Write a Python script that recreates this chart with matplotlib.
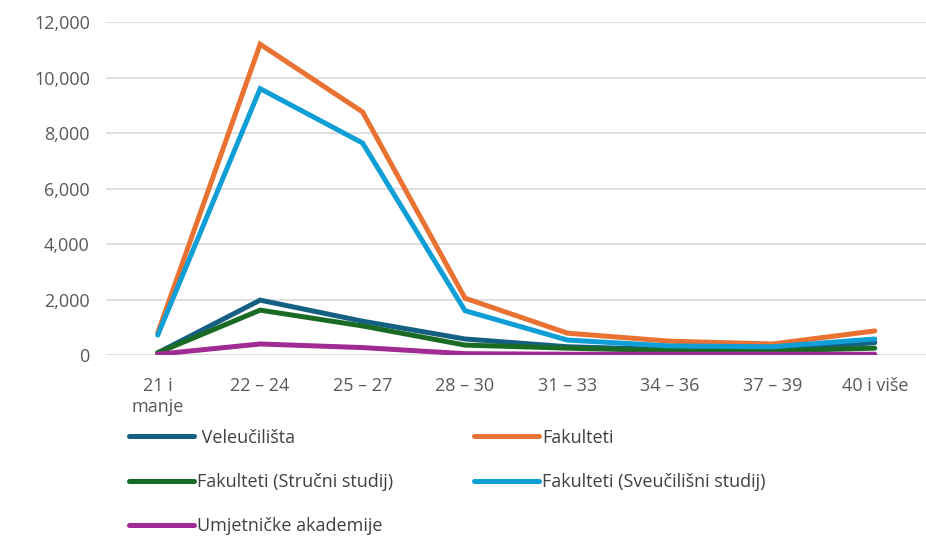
import matplotlib.pyplot as plt

# ==========================================================
# DATA
# ==========================================================

age_groups = ["21 i\nmanje", "22 – 24", "25 – 27", "28 – 30",
              "31 – 33", "34 – 36", "37 – 39", "40 i više"]

veleucilista = [80, 1980, 1220, 580, 300, 200, 150, 450]
fakulteti = [800, 11200, 8760, 2050, 790, 500, 400, 870]
fak_strucni = [80, 1620, 1050, 360, 250, 160, 150, 250]
fak_sveucilisni = [720, 9600, 7640, 1600, 540, 330, 300, 580]
umjetnicke = [30, 400, 270, 50, 30, 30, 30, 30]

series_labels = [" Veleučilišta", "Fakulteti", "Fakulteti (Stručni studij)",
                 "Fakulteti (Sveučilišni studij)", "Umjetničke akademije"]
colors = ["#156082", "#E97132", "#196B24", "#0F9ED5", "#A02B93"]

# ==========================================================
# PLOT
# ==========================================================

plt.rcParams["font.family"] = ["Open Sans", "DejaVu Sans"]

fig = plt.figure(figsize=(9.26, 5.38), dpi=100)
ax = fig.add_axes([0.115, 0.34, 0.885, 0.619])

x = list(range(len(age_groups)))
all_series = [veleucilista, fakulteti, fak_strucni, fak_sveucilisni, umjetnicke]
# draw order so the orange/light blue stay on top like in the source
order = [0, 2, 4, 1, 3]
handles = {}
for i in order:
    (ln,) = ax.plot(x, all_series[i], color=colors[i], linewidth=3.6,
                    solid_capstyle="round", solid_joinstyle="miter",
                    label=series_labels[i])
    handles[i] = ln

ax.set_xlim(-0.5, len(age_groups) - 0.5)
ax.set_ylim(0, 12000)
ax.set_yticks(range(0, 12001, 2000))
ax.set_yticklabels([f"{v:,}" for v in range(0, 12001, 2000)])
ax.set_xticks(x)
ax.set_xticklabels(age_groups, ha="center", va="top")

ax.grid(axis="y", color="#D9D9D9", linewidth=1.2)
ax.set_axisbelow(True)
for s in ax.spines.values():
    s.set_visible(False)
ax.tick_params(axis="both", length=0, labelsize=13, colors="#595959")
ax.tick_params(axis="x", pad=16)
ax.tick_params(axis="y", pad=12)

# legend fills column by column, so order it to read row by row
leg_order = [0, 2, 4, 1, 3]
fig.legend([handles[i] for i in leg_order], [series_labels[i] for i in leg_order],
           loc="upper left", bbox_to_anchor=(0.13, 0.22), ncol=2,
           frameon=False, fontsize=13, handlelength=3.6, handletextpad=0.15,
           columnspacing=4.5, labelspacing=1.45, borderpad=0,
           labelcolor="#404040")

# ==========================================================
# SAVE
# ==========================================================

fig.savefig("out.png", dpi=100)
